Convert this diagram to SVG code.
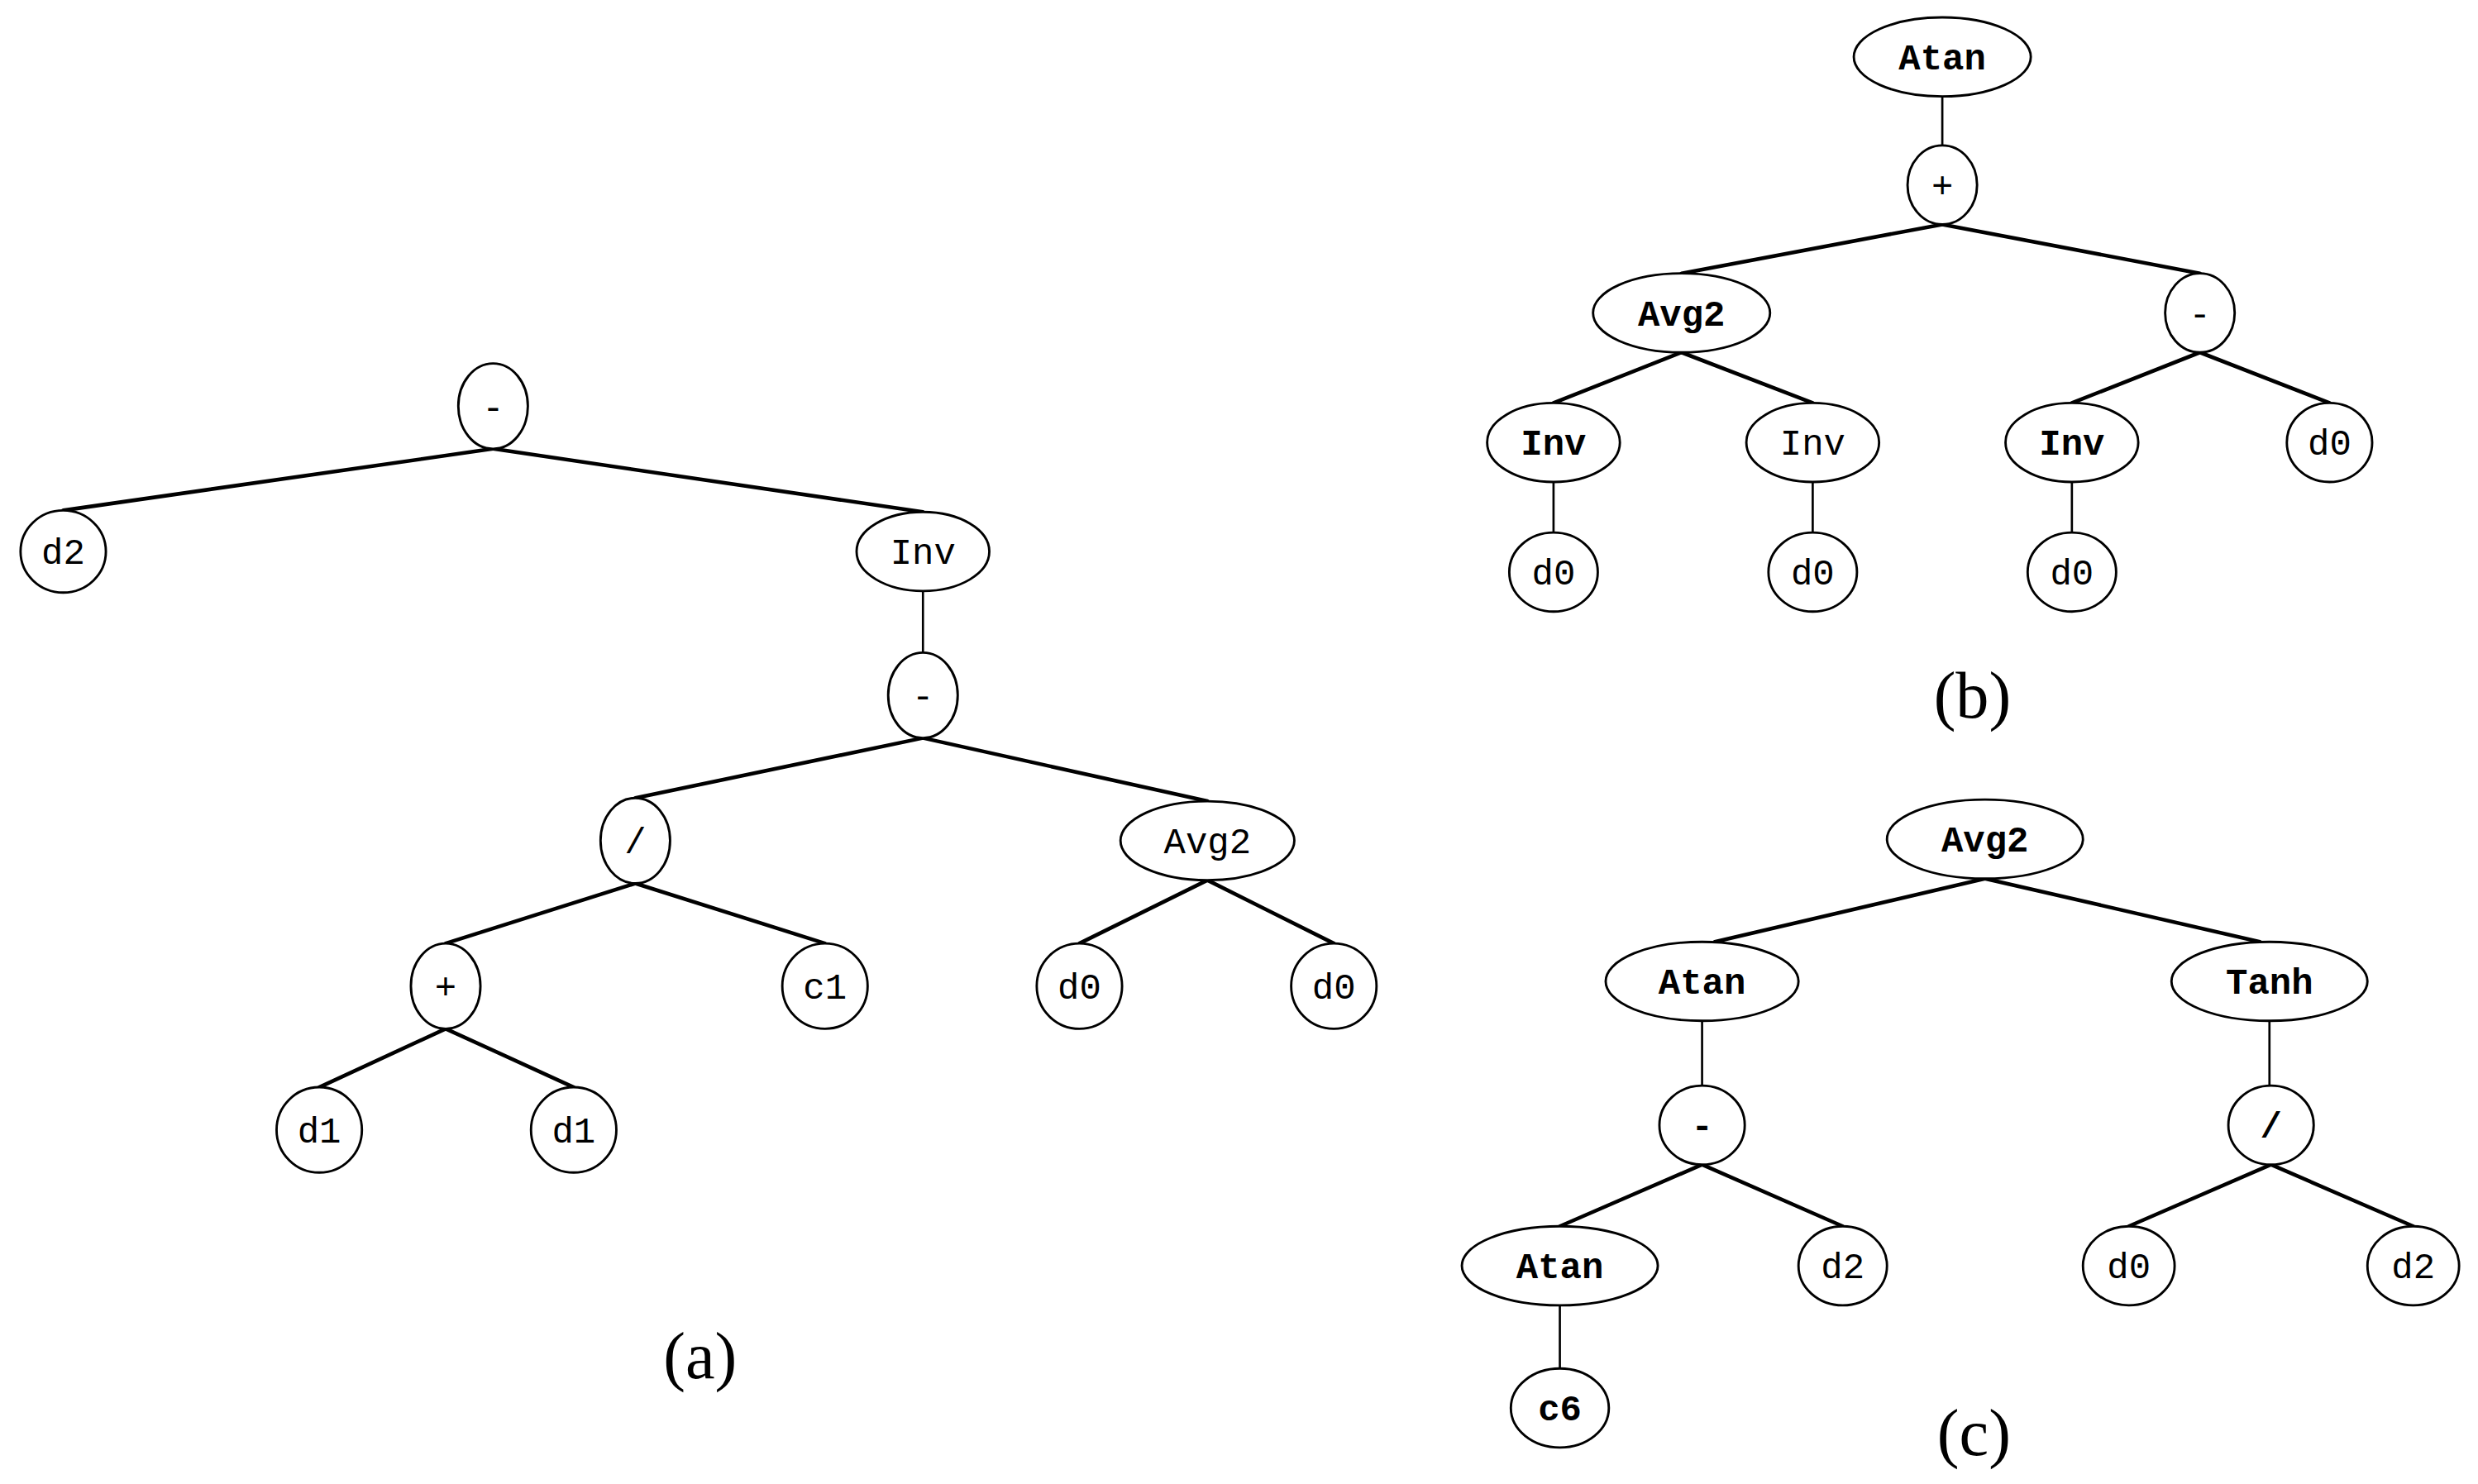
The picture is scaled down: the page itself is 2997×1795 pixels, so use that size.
<svg xmlns="http://www.w3.org/2000/svg" width="2997" height="1795" viewBox="0 0 2997 1795">
<style>
.n{fill:#fff;stroke:#000;stroke-width:1.5}
.t{font-family:"Liberation Mono","Courier New",monospace;font-size:23px;text-anchor:middle;fill:#000}
.b{font-weight:bold}
.e{stroke:#000;stroke-width:2.4;fill:none;stroke-linecap:round}
.v{stroke:#000;stroke-width:1.4;fill:none}
.cap{font-family:"Liberation Serif","Times New Roman",serif;font-size:42px;text-anchor:middle;fill:#000}
</style>
<rect width="2997" height="1795" fill="#fff"/>
<g transform="scale(1.9114)">
<g id="connectors">
<!-- tree a -->
<line class="e" x1="312" y1="284" x2="40" y2="323"/>
<line class="e" x1="312" y1="284" x2="584" y2="324"/>
<line class="v" x1="584" y1="374" x2="584" y2="413"/>
<line class="e" x1="584" y1="467" x2="402" y2="505"/>
<line class="e" x1="584" y1="467" x2="764" y2="507"/>
<line class="e" x1="402" y1="559" x2="282" y2="597"/>
<line class="e" x1="402" y1="559" x2="522" y2="597"/>
<line class="e" x1="764" y1="557" x2="683" y2="597"/>
<line class="e" x1="764" y1="557" x2="844" y2="597"/>
<line class="e" x1="282" y1="651" x2="202" y2="688"/>
<line class="e" x1="282" y1="651" x2="363" y2="688"/>
<!-- tree b -->
<line class="v" x1="1229" y1="61" x2="1229" y2="92"/>
<line class="e" x1="1229" y1="142" x2="1064" y2="173"/>
<line class="e" x1="1229" y1="142" x2="1392" y2="173"/>
<line class="e" x1="1064" y1="223" x2="983" y2="255"/>
<line class="e" x1="1064" y1="223" x2="1147" y2="255"/>
<line class="e" x1="1392" y1="223" x2="1311" y2="255"/>
<line class="e" x1="1392" y1="223" x2="1474" y2="255"/>
<line class="v" x1="983" y1="305" x2="983" y2="337"/>
<line class="v" x1="1147" y1="305" x2="1147" y2="337"/>
<line class="v" x1="1311" y1="305" x2="1311" y2="337"/>
<!-- tree c -->
<line class="e" x1="1256" y1="556" x2="1085" y2="596"/>
<line class="e" x1="1256" y1="556" x2="1430" y2="596"/>
<line class="v" x1="1077" y1="646" x2="1077" y2="687"/>
<line class="v" x1="1436" y1="646" x2="1436" y2="687"/>
<line class="e" x1="1077" y1="737" x2="987" y2="776"/>
<line class="e" x1="1077" y1="737" x2="1166" y2="776"/>
<line class="e" x1="1437" y1="737" x2="1347" y2="776"/>
<line class="e" x1="1437" y1="737" x2="1527" y2="776"/>
<line class="v" x1="987" y1="826" x2="987" y2="866"/>
</g>
<!-- tree a nodes -->
<g id="a_minus1"><ellipse class="n" cx="312" cy="257" rx="22" ry="27"/><text class="t" x="312" y="265">-</text></g>
<g id="a_d2"><ellipse class="n" cx="40" cy="349" rx="27" ry="26"/><text class="t" x="40" y="357">d2</text></g>
<g id="a_inv"><ellipse class="n" cx="584" cy="349" rx="42" ry="25"/><text class="t" x="584" y="357">Inv</text></g>
<g id="a_minus2"><ellipse class="n" cx="584" cy="440" rx="22" ry="27"/><text class="t" x="584" y="448">-</text></g>
<g id="a_div"><ellipse class="n" cx="402" cy="532" rx="22" ry="27"/><text class="t" x="402" y="540">/</text></g>
<g id="a_avg2"><ellipse class="n" cx="764" cy="532" rx="55" ry="25"/><text class="t" x="764" y="540">Avg2</text></g>
<g id="a_plus"><ellipse class="n" cx="282" cy="624" rx="22" ry="27"/><text class="t" x="282" y="632">+</text></g>
<g id="a_c1"><ellipse class="n" cx="522" cy="624" rx="27" ry="27"/><text class="t" x="522" y="632">c1</text></g>
<g id="a_d0_1"><ellipse class="n" cx="683" cy="624" rx="27" ry="27"/><text class="t" x="683" y="632">d0</text></g>
<g id="a_d0_2"><ellipse class="n" cx="844" cy="624" rx="27" ry="27"/><text class="t" x="844" y="632">d0</text></g>
<g id="a_d1_1"><ellipse class="n" cx="202" cy="715" rx="27" ry="27"/><text class="t" x="202" y="723">d1</text></g>
<g id="a_d1_2"><ellipse class="n" cx="363" cy="715" rx="27" ry="27"/><text class="t" x="363" y="723">d1</text></g>
<text id="label_a" class="cap" x="443" y="872">(a)</text>
<!-- tree b nodes -->
<g id="b_atan"><ellipse class="n" cx="1229" cy="36" rx="56" ry="25"/><text class="t b" x="1229" y="44">Atan</text></g>
<g id="b_plus"><ellipse class="n" cx="1229" cy="117" rx="22" ry="25"/><text class="t" x="1229" y="125">+</text></g>
<g id="b_avg2"><ellipse class="n" cx="1064" cy="198" rx="56" ry="25"/><text class="t b" x="1064" y="206">Avg2</text></g>
<g id="b_minus"><ellipse class="n" cx="1392" cy="198" rx="22" ry="25"/><text class="t" x="1392" y="206">-</text></g>
<g id="b_inv1"><ellipse class="n" cx="983" cy="280" rx="42" ry="25"/><text class="t b" x="983" y="288">Inv</text></g>
<g id="b_inv2"><ellipse class="n" cx="1147" cy="280" rx="42" ry="25"/><text class="t" x="1147" y="288">Inv</text></g>
<g id="b_inv3"><ellipse class="n" cx="1311" cy="280" rx="42" ry="25"/><text class="t b" x="1311" y="288">Inv</text></g>
<g id="b_d0_r"><ellipse class="n" cx="1474" cy="280" rx="27" ry="25"/><text class="t" x="1474" y="288">d0</text></g>
<g id="b_d0_1"><ellipse class="n" cx="983" cy="362" rx="28" ry="25"/><text class="t" x="983" y="370">d0</text></g>
<g id="b_d0_2"><ellipse class="n" cx="1147" cy="362" rx="28" ry="25"/><text class="t" x="1147" y="370">d0</text></g>
<g id="b_d0_3"><ellipse class="n" cx="1311" cy="362" rx="28" ry="25"/><text class="t" x="1311" y="370">d0</text></g>
<text id="label_b" class="cap" x="1248" y="454">(b)</text>
<!-- tree c nodes -->
<g id="c_avg2"><ellipse class="n" cx="1256" cy="531" rx="62" ry="25"/><text class="t b" x="1256" y="539">Avg2</text></g>
<g id="c_atan1"><ellipse class="n" cx="1077" cy="621" rx="61" ry="25"/><text class="t b" x="1077" y="629">Atan</text></g>
<g id="c_tanh"><ellipse class="n" cx="1436" cy="621" rx="62" ry="25"/><text class="t b" x="1436" y="629">Tanh</text></g>
<g id="c_minus"><ellipse class="n" cx="1077" cy="712" rx="27" ry="25"/><text class="t b" x="1077" y="720">-</text></g>
<g id="c_div"><ellipse class="n" cx="1437" cy="712" rx="27" ry="25"/><text class="t b" x="1437" y="720">/</text></g>
<g id="c_atan2"><ellipse class="n" cx="987" cy="801" rx="62" ry="25"/><text class="t b" x="987" y="809">Atan</text></g>
<g id="c_d2_1"><ellipse class="n" cx="1166" cy="801" rx="28" ry="25"/><text class="t" x="1166" y="809">d2</text></g>
<g id="c_d0"><ellipse class="n" cx="1347" cy="801" rx="29" ry="25"/><text class="t" x="1347" y="809">d0</text></g>
<g id="c_d2_2"><ellipse class="n" cx="1527" cy="801" rx="29" ry="25"/><text class="t" x="1527" y="809">d2</text></g>
<g id="c_c6"><ellipse class="n" cx="987" cy="891" rx="31" ry="25"/><text class="t b" x="987" y="899">c6</text></g>
<text id="label_c" class="cap" x="1249" y="921">(c)</text>
</g>
</svg>
